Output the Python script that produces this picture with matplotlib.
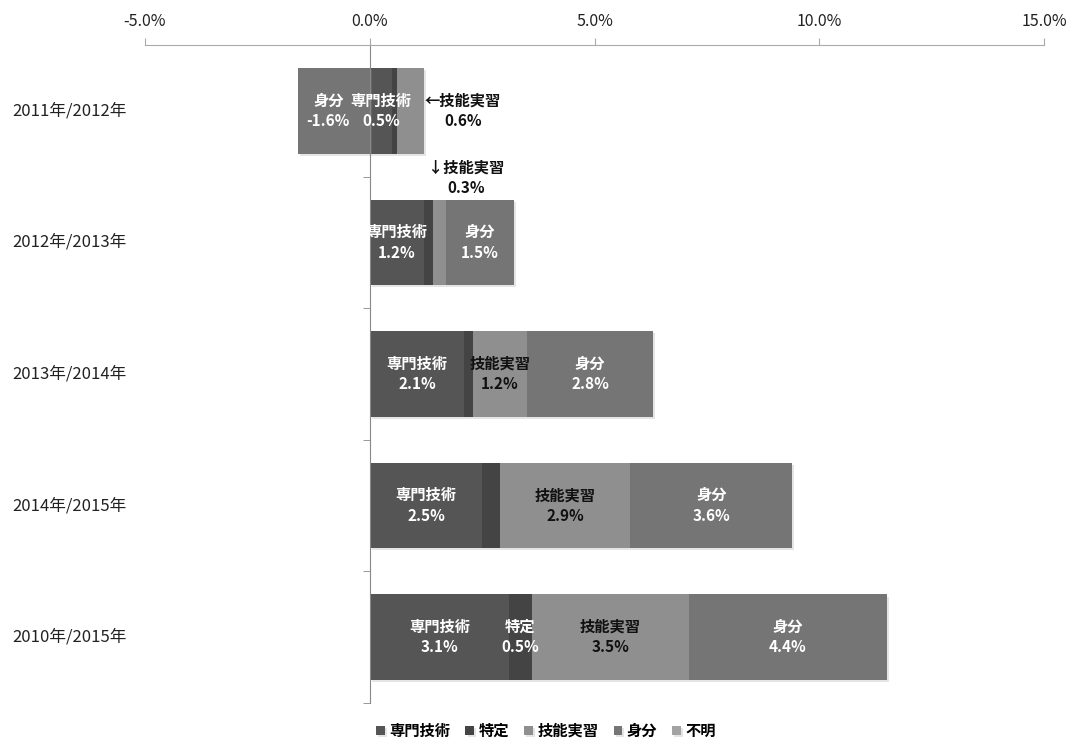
import matplotlib
matplotlib.use("Agg")
import matplotlib.pyplot as plt
import matplotlib.transforms as mtransforms
import matplotlib.patheffects as pe
import numpy as np

plt.rcParams['font.family'] = ['Noto Sans CJK JP', 'DejaVu Sans']

# data (% change, stacked per period)
periods = ['2011年/2012年', '2012年/2013年', '2013年/2014年', '2014年/2015年', '2010年/2015年']
series = ['専門技術', '特定', '技能実習', '身分', '不明']
senmon = [0.5, 1.2, 2.1, 2.5, 3.1]
tokutei = [0.1, 0.2, 0.2, 0.4, 0.5]
ginou = [0.6, 0.3, 1.2, 2.9, 3.5]
mibun = [-1.6, 1.5, 2.8, 3.6, 4.4]
fumei = [0.0, 0.0, 0.0, 0.0, 0.0]
xticks = [-5, 0, 5, 10, 15]

values = [senmon, tokutei, ginou, mibun, fumei]
colors = ['#555555', '#444444', '#8f8f8f', '#757575', '#a3a3a3']
txt_colors = ['white', 'white', '#111111', 'white', 'white']

fig = plt.figure(figsize=(10.67, 7.39), dpi=100)
ax = fig.add_axes([145/1067, 1 - 703/739, (1044-145)/1067, (703-45)/739])

y = np.arange(len(periods))
h = 0.65
shadow = [pe.SimplePatchShadow(offset=(1.5, -1.5), alpha=0.25, shadow_rgbFace='#999999'), pe.Normal()]

pos_left = np.zeros(len(periods))
neg_left = np.zeros(len(periods))
lefts = []
for vals, c, name in zip(values, colors, series):
    vals = np.array(vals)
    left = np.where(vals >= 0, pos_left, neg_left)
    ax.barh(y, vals, left=left, height=h, color=c, label=name, zorder=2,
            path_effects=shadow)
    lefts.append(left.copy())
    pos_left += np.where(vals >= 0, vals, 0)
    neg_left += np.where(vals < 0, vals, 0)

# labels inside the bars (row, series) -> x nudge
inside = {(0, 0): 0.0, (0, 3): -0.12, (1, 0): 0.0, (1, 3): 0.0,
          (2, 0): 0.0, (2, 2): 0.0, (2, 3): 0.0,
          (3, 0): 0.0, (3, 2): 0.0, (3, 3): 0.0,
          (4, 0): 0.0, (4, 1): 0.0, (4, 2): 0.0, (4, 3): 0.0}
for si, (vals, name) in enumerate(zip(values, series)):
    for r in range(len(periods)):
        if (r, si) not in inside:
            continue
        cx = lefts[si][r] + vals[r] / 2 + inside[(r, si)]
        ax.text(cx, r, f'{name}\n{vals[r]:.1f}%', ha='center', va='center',
                color=txt_colors[si], fontsize=11, fontweight='bold',
                linespacing=1.35, zorder=4)

# small segments labelled beside the bar
ax.text(2.07, 0, f'←{series[2]}\n{ginou[0]:.1f}%', ha='center', va='center',
        fontsize=11, fontweight='bold', color='#111111', linespacing=1.35)
ax.text(2.14, 0.51, f'↓{series[2]}\n{ginou[1]:.1f}%', ha='center', va='center',
        fontsize=11, fontweight='bold', color='#111111', linespacing=1.35)

ax.set_xlim(-5, 15)
ax.set_ylim(len(periods) - 0.5, -0.5)

# x axis on top
ax.xaxis.set_ticks_position('top')
ax.set_xticks(xticks)
ax.set_xticklabels([f'{t:.1f}%' for t in xticks])
ax.tick_params(axis='x', direction='out', length=5, pad=6, color='#aaaaaa',
               labelsize=11.5, labelcolor='#222222')

# category axis at zero with ticks between rows
ax.spines['left'].set_position(('data', 0))
ax.spines['left'].set_color('#888888')
ax.spines['top'].set_color('#aaaaaa')
ax.spines['right'].set_visible(False)
ax.spines['bottom'].set_visible(False)
ax.set_yticks(y)
ax.set_yticklabels([])
ax.set_yticks(np.arange(len(periods)) + 0.5, minor=True)
ax.tick_params(axis='y', which='major', length=0)
ax.tick_params(axis='y', which='minor', direction='out', length=5, color='#888888')

trans = mtransforms.blended_transform_factory(fig.transFigure, ax.transData)
for r, p in enumerate(periods):
    ax.text(12/1067, r, p, transform=trans, ha='left', va='center',
            fontsize=12, color='#222222')

fig.legend(loc='center', bbox_to_anchor=(546/1067, 1 - 731/739), ncol=5,
           frameon=False, handlelength=0.55, handleheight=0.55, handletextpad=0.3,
           columnspacing=1.0, prop={'size': 11, 'weight': 'bold'})

fig.savefig('out.png', dpi=100)
